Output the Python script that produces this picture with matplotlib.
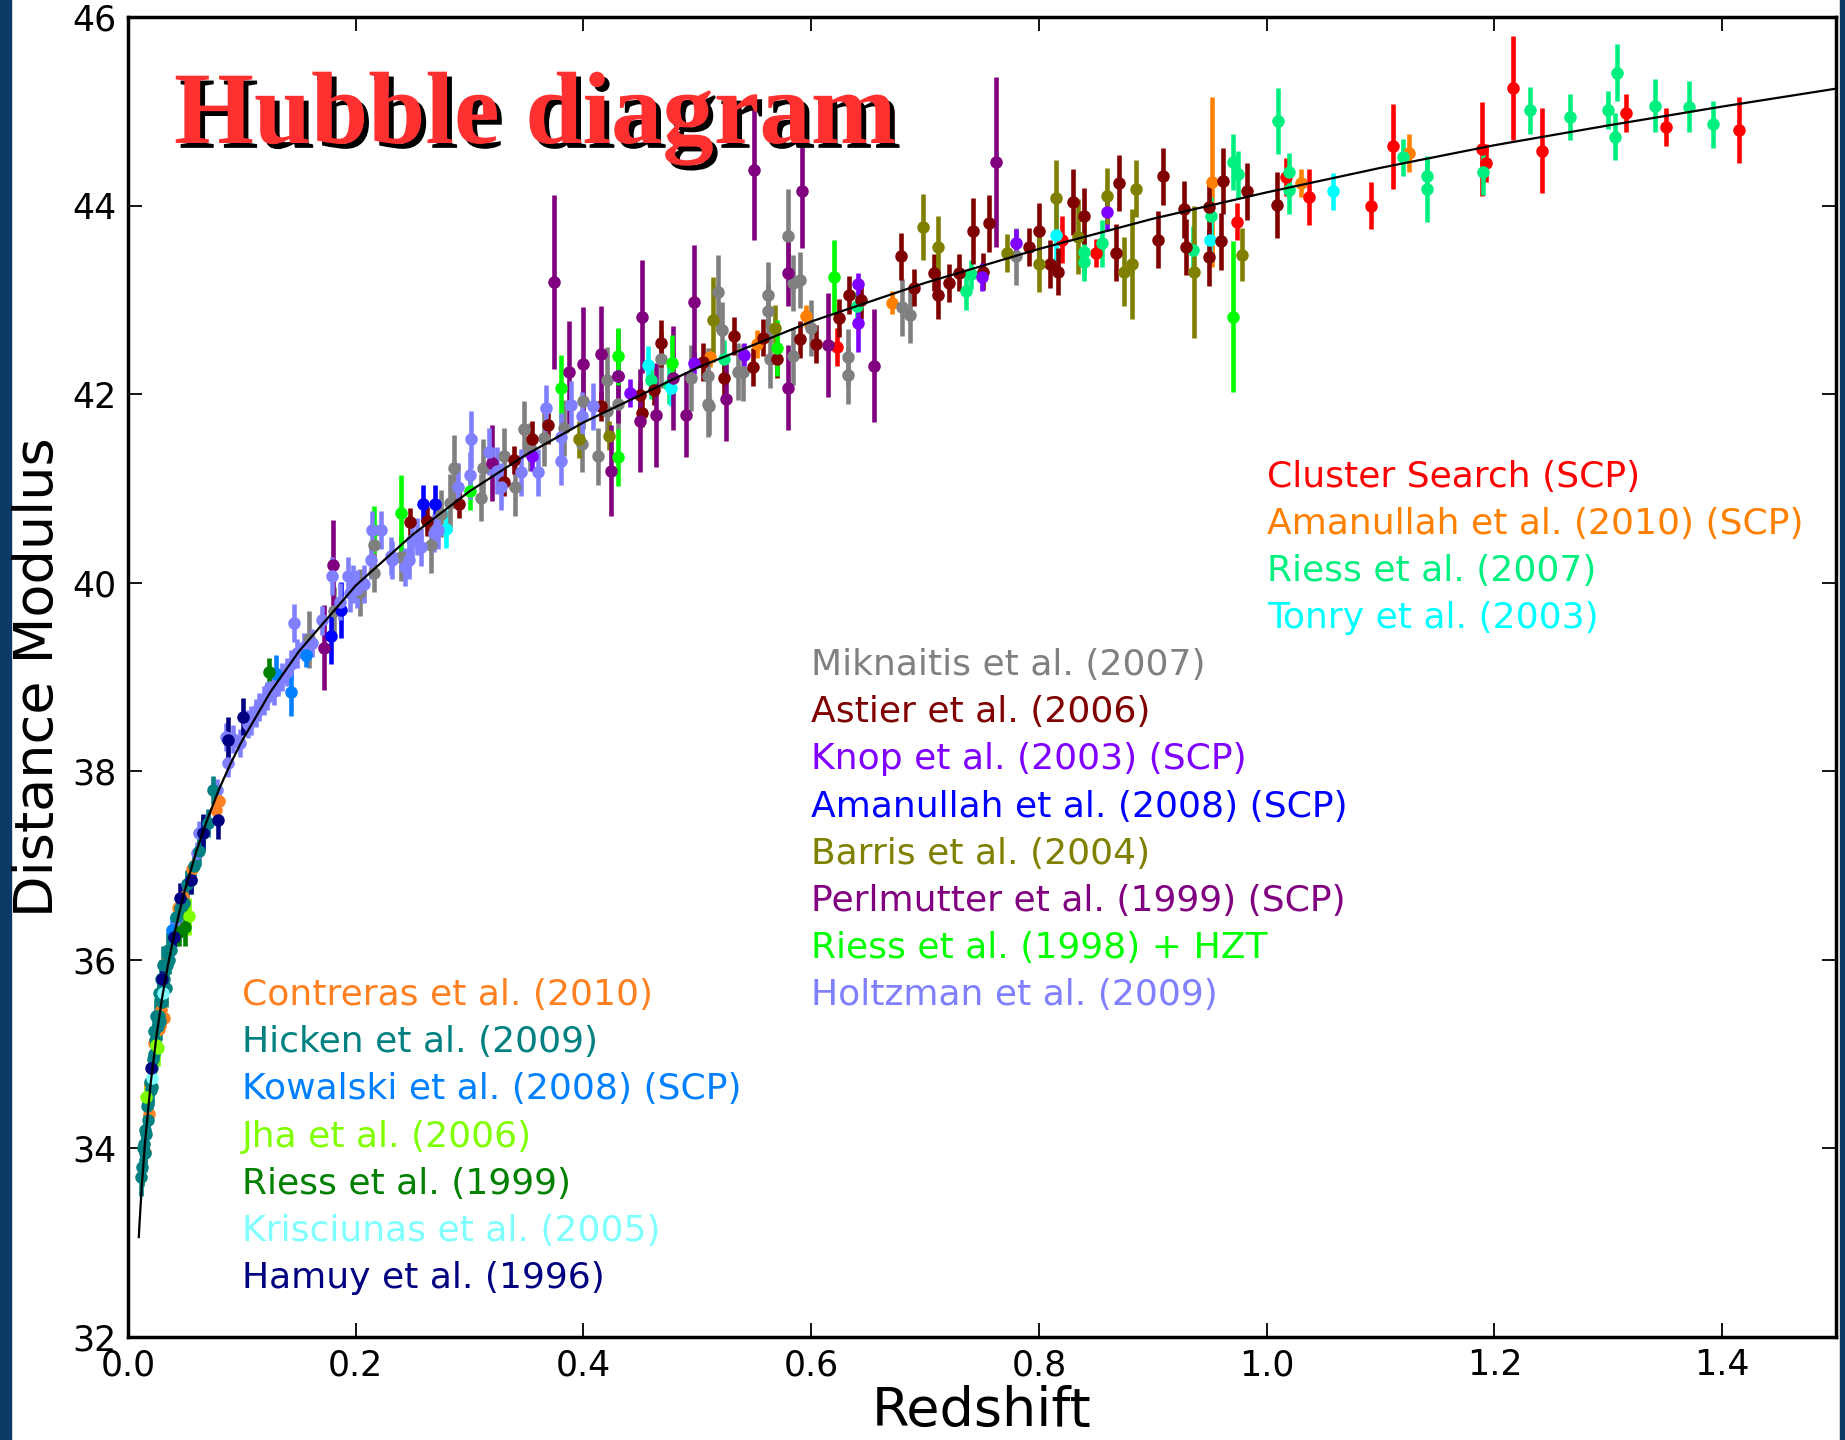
import matplotlib
matplotlib.use('Agg')
import matplotlib.pyplot as plt
import matplotlib.patheffects as pe
from matplotlib.patches import Rectangle

# model curve (redshift, distance modulus)
curve_z = [0.0095, 0.01, 0.012, 0.015, 0.02, 0.025, 0.03, 0.035, 0.04, 0.045, 0.05, 0.06, 0.07, 0.08, 0.09,
           0.1, 0.125, 0.15, 0.2, 0.25, 0.3, 0.35, 0.4, 0.5, 0.6, 0.7, 0.8, 0.9, 1.0, 1.1, 1.2,
           1.3, 1.4, 1.5]
curve_mu = [33.06, 33.18, 33.58, 34.07, 34.70, 35.19, 35.60, 35.94, 36.24, 36.50, 36.74, 37.15, 37.50,
            37.81, 38.08, 38.32, 38.84, 39.27, 39.97, 40.51, 40.97, 41.36, 41.70, 42.28, 42.77,
            43.18, 43.54, 43.86, 44.14, 44.40, 44.64, 44.85, 45.05, 45.24]

# --- high-z group ---
cluster_z = [0.623, 0.82, 0.85, 0.974, 1.017, 1.037, 1.092, 1.111, 1.189, 1.193, 1.216, 1.242, 1.316, 1.351, 1.415]
cluster_mu = [42.50, 43.64, 43.50, 43.83, 44.30, 44.09, 44.00, 44.63, 44.60, 44.45, 45.25, 44.58, 44.98, 44.83, 44.80]
cluster_err = [0.2, 0.25, 0.15, 0.2, 0.2, 0.3, 0.25, 0.45, 0.5, 0.2, 0.55, 0.45, 0.2, 0.2, 0.35]

aman10_z = [0.511, 0.552, 0.595, 0.671, 0.952, 1.03, 1.125]
aman10_mu = [42.39, 42.53, 42.83, 42.97, 44.25, 44.24, 44.56]
aman10_err = [0.1, 0.15, 0.12, 0.12, 0.9, 0.15, 0.2]

riess07_z = [0.459, 0.475, 0.523, 0.64, 0.736, 0.74, 0.84, 0.84, 0.855, 0.935, 0.951, 0.97, 0.975, 1.01,
             1.02, 1.02, 1.12, 1.141, 1.141, 1.19, 1.231, 1.266, 1.30, 1.306, 1.308, 1.341, 1.371, 1.392]
riess07_mu = [42.15, 42.10, 42.37, 42.93, 43.09, 43.27, 43.51, 43.40, 43.60, 43.53, 43.89, 44.46, 44.33, 44.90,
              44.36, 44.16, 44.51, 44.31, 44.18, 44.36, 45.01, 44.94, 45.01, 44.73, 45.41, 45.06, 45.05, 44.86]
riess07_err = [0.2, 0.2, 0.2, 0.15, 0.2, 0.15, 0.25, 0.2, 0.25, 0.25, 0.2, 0.3, 0.25, 0.35,
               0.2, 0.25, 0.2, 0.2, 0.35, 0.25, 0.25, 0.24, 0.2, 0.25, 0.3, 0.28, 0.27, 0.25]

tonry_z = [0.279, 0.457, 0.477, 0.815, 0.95, 1.058]
tonry_mu = [40.57, 42.31, 42.07, 43.69, 43.64, 44.15]
tonry_err = [0.2, 0.2, 0.2, 0.35, 0.25, 0.2]

# --- intermediate-z group ---
mik_z = [0.159, 0.181, 0.204, 0.216, 0.216, 0.24, 0.266, 0.275, 0.283, 0.286, 0.31, 0.312, 0.33, 0.34,
         0.348, 0.353, 0.365, 0.383, 0.40, 0.399, 0.413, 0.421, 0.421, 0.43, 0.468, 0.494, 0.509, 0.51,
         0.509, 0.518, 0.522, 0.536, 0.54, 0.562, 0.562, 0.564, 0.58, 0.584, 0.59, 0.584, 0.60, 0.632,
         0.632, 0.68, 0.687, 0.78]
mik_mu = [39.40, 39.70, 39.90, 40.10, 40.40, 40.27, 40.40, 40.73, 40.85, 41.22, 40.90, 41.22, 41.34, 41.01,
          41.63, 41.44, 41.54, 41.64, 41.93, 41.47, 41.34, 42.15, 41.82, 41.90, 42.37, 42.17, 41.90, 41.87,
          42.19, 43.08, 42.68, 42.24, 42.23, 43.05, 42.88, 42.37, 43.68, 43.18, 43.21, 42.40, 42.70, 42.39,
          42.20, 42.92, 42.84, 43.46]
mik_err = [0.3, 0.25, 0.25, 0.2, 0.2, 0.25, 0.3, 0.25, 0.3, 0.35, 0.25, 0.3, 0.3, 0.3,
           0.3, 0.25, 0.3, 0.3, 0.3, 0.3, 0.3, 0.35, 0.3, 0.3, 0.3, 0.35, 0.35, 0.3,
           0.3, 0.4, 0.3, 0.3, 0.3, 0.35, 0.3, 0.3, 0.5, 0.3, 0.3, 0.3, 0.3, 0.3,
           0.3, 0.3, 0.3, 0.3]

astier_z = [0.248, 0.263, 0.291, 0.33, 0.339, 0.355, 0.369, 0.415, 0.45, 0.451, 0.462, 0.468, 0.505, 0.523,
            0.532, 0.549, 0.558, 0.57, 0.59, 0.604, 0.624, 0.633, 0.644, 0.679, 0.69, 0.708, 0.711, 0.721,
            0.73, 0.742, 0.751, 0.756, 0.791, 0.80, 0.81, 0.817, 0.83, 0.84, 0.868, 0.87, 0.905, 0.909,
            0.927, 0.929, 0.949, 0.949, 0.96, 0.962, 0.983, 1.009]
astier_mu = [40.64, 40.65, 40.84, 41.07, 41.30, 41.52, 41.67, 41.87, 41.99, 41.80, 42.04, 42.54, 42.34, 42.17,
             42.62, 42.29, 42.60, 42.37, 42.58, 42.53, 42.81, 43.05, 43.00, 43.46, 43.13, 43.29, 43.05, 43.18,
             43.29, 43.73, 43.30, 43.81, 43.56, 43.73, 43.38, 43.30, 44.04, 43.89, 43.50, 44.24, 43.64, 44.31,
             43.96, 43.56, 43.45, 43.98, 43.62, 44.26, 44.15, 44.01]
astier_err = [0.15, 0.15, 0.15, 0.15, 0.15, 0.2, 0.2, 0.15, 0.15, 0.15, 0.15, 0.25, 0.2, 0.2,
              0.2, 0.2, 0.2, 0.2, 0.2, 0.2, 0.2, 0.2, 0.2, 0.25, 0.2, 0.2, 0.25, 0.2,
              0.2, 0.35, 0.2, 0.3, 0.2, 0.3, 0.25, 0.25, 0.35, 0.3, 0.3, 0.3, 0.3, 0.3,
              0.3, 0.3, 0.3, 0.3, 0.3, 0.35, 0.3, 0.35]

knop_z = [0.355, 0.43, 0.441, 0.497, 0.541, 0.641, 0.641, 0.75, 0.78, 0.86]
knop_mu = [41.34, 42.19, 42.01, 42.33, 42.42, 43.17, 42.75, 43.24, 43.60, 43.93]
knop_err = [0.15, 0.15, 0.15, 0.12, 0.12, 0.12, 0.3, 0.15, 0.15, 0.2]

aman08_z = [0.178, 0.187, 0.259, 0.27]
aman08_mu = [39.44, 39.71, 40.84, 40.84]
aman08_err = [0.3, 0.3, 0.2, 0.2]

barris_z = [0.396, 0.422, 0.514, 0.568, 0.698, 0.711, 0.772, 0.80, 0.815, 0.834, 0.86, 0.875, 0.882, 0.885, 0.936, 0.978]
barris_mu = [41.52, 41.56, 42.79, 42.70, 43.77, 43.56, 43.50, 43.38, 44.08, 43.67, 44.10, 43.30, 43.38, 44.18, 43.30, 43.48]
barris_err = [0.2, 0.15, 0.45, 0.25, 0.35, 0.33, 0.2, 0.3, 0.4, 0.4, 0.3, 0.37, 0.58, 0.3, 0.7, 0.28]

perl_z = [0.172, 0.18, 0.32, 0.374, 0.387, 0.40, 0.415, 0.424, 0.43, 0.45, 0.451, 0.464, 0.479, 0.49,
          0.497, 0.525, 0.55, 0.58, 0.58, 0.592, 0.615, 0.655, 0.762]
perl_mu = [39.31, 40.19, 41.27, 43.19, 42.23, 42.32, 42.43, 41.19, 42.19, 41.72, 42.82, 41.78, 42.17, 41.78,
           42.98, 41.95, 44.38, 42.07, 43.29, 44.15, 42.52, 42.30, 44.46]
perl_err = [0.45, 0.48, 0.4, 0.92, 0.55, 0.6, 0.5, 0.48, 0.5, 0.55, 0.6, 0.55, 0.55, 0.45,
            0.6, 0.45, 0.75, 0.45, 0.35, 0.6, 0.55, 0.6, 0.9]

riess98_z = [0.216, 0.24, 0.30, 0.38, 0.43, 0.43, 0.478, 0.57, 0.62, 0.97]
riess98_mu = [40.56, 40.74, 40.97, 42.07, 42.40, 41.33, 42.33, 42.49, 43.24, 42.82]
riess98_err = [0.25, 0.4, 0.2, 0.35, 0.3, 0.3, 0.3, 0.3, 0.4, 0.8]

holtz_z = [0.043, 0.052, 0.061, 0.062, 0.07, 0.078, 0.086, 0.088, 0.092, 0.098, 0.105, 0.108, 0.112, 0.115,
           0.119, 0.122, 0.125, 0.128, 0.132, 0.135, 0.14, 0.143, 0.146, 0.148, 0.155, 0.162, 0.17, 0.179,
           0.186, 0.193, 0.195, 0.198, 0.201, 0.207, 0.213, 0.214, 0.222, 0.231, 0.232, 0.243, 0.247, 0.249,
           0.254, 0.257, 0.269, 0.272, 0.29, 0.30, 0.301, 0.317, 0.324, 0.328, 0.345, 0.36, 0.367, 0.38,
           0.38, 0.389, 0.399, 0.408]
holtz_mu = [36.38, 36.80, 37.13, 37.35, 37.45, 37.80, 38.36, 38.09, 38.34, 38.30, 38.50, 38.54, 38.62, 38.68,
            38.75, 38.80, 38.89, 38.85, 38.95, 39.00, 39.05, 39.14, 39.57, 39.25, 39.32, 39.36, 39.60, 40.07,
            39.80, 40.07, 39.89, 39.99, 39.93, 39.99, 40.24, 40.56, 40.56, 40.28, 40.24, 40.17, 40.24, 40.45,
            40.49, 40.38, 40.53, 40.56, 41.02, 41.14, 41.52, 41.39, 41.19, 41.02, 41.17, 41.17, 41.85, 41.55,
            41.29, 41.89, 41.77, 41.87]
holtz_err = [0.12, 0.12, 0.12, 0.12, 0.12, 0.12, 0.15, 0.15, 0.15, 0.15, 0.15, 0.15, 0.15, 0.15,
             0.15, 0.15, 0.15, 0.15, 0.15, 0.15, 0.15, 0.15, 0.2, 0.15, 0.15, 0.15, 0.15, 0.2,
             0.2, 0.2, 0.2, 0.2, 0.2, 0.2, 0.2, 0.2, 0.2, 0.2, 0.2, 0.2, 0.2, 0.2,
             0.2, 0.2, 0.2, 0.2, 0.25, 0.25, 0.3, 0.25, 0.25, 0.25, 0.25, 0.25, 0.25, 0.25,
             0.25, 0.25, 0.25, 0.25]

# --- low-z group ---
contr_z = [0.0145, 0.0186, 0.0196, 0.0227, 0.0269, 0.029, 0.032, 0.030, 0.033, 0.044, 0.048, 0.056, 0.077, 0.080]
contr_mu = [33.96, 34.37, 34.67, 35.12, 35.27, 35.47, 35.38, 35.55, 35.97, 36.55, 36.67, 36.96, 37.59, 37.68]
contr_err = [0.1] * 14

hicken_z = [0.0115, 0.0125, 0.013, 0.014, 0.015, 0.015, 0.016, 0.017, 0.018, 0.018, 0.019, 0.020, 0.021,
            0.021, 0.022, 0.023, 0.023, 0.024, 0.025, 0.025, 0.026, 0.027, 0.027, 0.028, 0.029, 0.029,
            0.030, 0.031, 0.031, 0.032, 0.033, 0.034, 0.035, 0.036, 0.038, 0.040, 0.042, 0.043, 0.046,
            0.049, 0.052, 0.055, 0.058, 0.062, 0.066, 0.070, 0.075]
hicken_mu = [33.70, 33.80, 34.00, 34.05, 34.20, 33.95, 34.15, 34.45, 34.50, 34.30, 34.70, 34.62, 34.85,
             34.65, 34.95, 35.00, 35.25, 35.15, 35.10, 35.40, 35.30, 35.40, 35.65, 35.35, 35.60, 35.80,
             35.55, 35.72, 35.95, 35.80, 35.70, 35.95, 36.10, 36.00, 36.10, 36.25, 36.45, 36.30, 36.55,
             36.60, 36.80, 36.85, 37.00, 37.15, 37.35, 37.45, 37.80]
hicken_err = [0.2, 0.2, 0.15, 0.15, 0.15, 0.2, 0.2, 0.15, 0.15, 0.2, 0.15, 0.2, 0.15,
              0.2, 0.15, 0.2, 0.2, 0.15, 0.15, 0.2, 0.2, 0.15, 0.2, 0.2, 0.15, 0.2,
              0.15, 0.2, 0.2, 0.15, 0.2, 0.15, 0.2, 0.15, 0.15, 0.15, 0.15, 0.15, 0.15,
              0.15, 0.15, 0.15, 0.15, 0.15, 0.15, 0.15, 0.15]

kowal_z = [0.039, 0.13, 0.143, 0.156]
kowal_mu = [36.32, 39.03, 38.84, 39.23]
kowal_err = [0.15, 0.2, 0.25, 0.12]

jha_z = [0.0155, 0.025, 0.026, 0.054]
jha_mu = [34.55, 35.10, 35.07, 36.46]
jha_err = [0.15, 0.15, 0.2, 0.2]

riess99_z = [0.045, 0.05, 0.124]
riess99_mu = [36.30, 36.35, 39.05]
riess99_err = [0.15, 0.2, 0.15]

kris_z = [0.021, 0.031]
kris_mu = [34.75, 35.65]
kris_err = [0.1, 0.1]

hamuy_z = [0.020, 0.030, 0.040, 0.046, 0.055, 0.066, 0.079, 0.088, 0.101]
hamuy_mu = [34.85, 35.80, 36.24, 36.66, 36.85, 37.35, 37.48, 38.33, 38.58]
hamuy_err = [0.15, 0.15, 0.15, 0.15, 0.15, 0.2, 0.2, 0.25, 0.2]

# label, colour, data ; text column position in data coords
groups = [
    # (x of labels, y of first label, entries)
    (1.0, 41.125, [
        ('Cluster Search (SCP)', '#ff0000', cluster_z, cluster_mu, cluster_err),
        ('Amanullah et al. (2010) (SCP)', '#ff8000', aman10_z, aman10_mu, aman10_err),
        ('Riess et al. (2007)', '#00f080', riess07_z, riess07_mu, riess07_err),
        ('Tonry et al. (2003)', '#00ffff', tonry_z, tonry_mu, tonry_err),
    ]),
    (0.6, 39.125, [
        ('Miknaitis et al. (2007)', '#808080', mik_z, mik_mu, mik_err),
        ('Astier et al. (2006)', '#800000', astier_z, astier_mu, astier_err),
        ('Knop et al. (2003) (SCP)', '#8000ff', knop_z, knop_mu, knop_err),
        ('Amanullah et al. (2008) (SCP)', '#0000ff', aman08_z, aman08_mu, aman08_err),
        ('Barris et al. (2004)', '#808000', barris_z, barris_mu, barris_err),
        ('Perlmutter et al. (1999) (SCP)', '#800080', perl_z, perl_mu, perl_err),
        ('Riess et al. (1998) + HZT', '#00ff00', riess98_z, riess98_mu, riess98_err),
        ('Holtzman et al. (2009)', '#8080ff', holtz_z, holtz_mu, holtz_err),
    ]),
    (0.1, 35.625, [
        ('Contreras et al. (2010)', '#ff8020', contr_z, contr_mu, contr_err),
        ('Hicken et al. (2009)', '#008080', hicken_z, hicken_mu, hicken_err),
        ('Kowalski et al. (2008) (SCP)', '#0080ff', kowal_z, kowal_mu, kowal_err),
        ('Jha et al. (2006)', '#80ff00', jha_z, jha_mu, jha_err),
        ('Riess et al. (1999)', '#008000', riess99_z, riess99_mu, riess99_err),
        ('Krisciunas et al. (2005)', '#80ffff', kris_z, kris_mu, kris_err),
        ('Hamuy et al. (1996)', '#000080', hamuy_z, hamuy_mu, hamuy_err),
    ]),
]

fig = plt.figure(figsize=(18.45, 14.4), dpi=100)
fig.patch.set_facecolor('white')
# slide background strips at the edges
fig.patches.append(Rectangle((0, 0), 11 / 1845, 1, transform=fig.transFigure, color='#0b3a66', zorder=-5))
fig.patches.append(Rectangle((1840 / 1845, 0), 5 / 1845, 1, transform=fig.transFigure, color='#0b3a66', zorder=-5))

ax = fig.add_axes([128 / 1845, 1 - 1337 / 1440, 1708 / 1845, 1320 / 1440])

# draw points, high-z group first so the crowded low-z points end up on top
for xl, y0, entries in groups:
    for i, (label, col, z, mu, err) in enumerate(entries):
        ax.errorbar(z, mu, yerr=err, fmt='o', color=col, mec=col, ms=8,
                    elinewidth=3.3, capsize=0, zorder=2)
        ax.text(xl, y0 - 0.5 * i, label, color=col, fontsize=26, va='center', ha='left')

ax.plot(curve_z, curve_mu, color='black', lw=1.6, zorder=3)

ax.set_xlim(0, 1.5)
ax.set_ylim(32, 46)
ax.set_xticks([0.0, 0.2, 0.4, 0.6, 0.8, 1.0, 1.2, 1.4])
ax.set_yticks([32, 34, 36, 38, 40, 42, 44, 46])
ax.tick_params(direction='in', length=10, width=1.3, top=True, right=True, labelsize=25, pad=8)
for s in ax.spines.values():
    s.set_linewidth(2.5)

ax.set_xlabel('Redshift', fontsize=39, labelpad=2)
ax.set_ylabel('Distance Modulus', fontsize=39, labelpad=6)

fig.text(174 / 1845, 1 - 143 / 1440, 'Hubble diagram', fontsize=74, fontweight='bold',
         family='Liberation Serif', color='#ff3030', va='baseline', ha='left',
         path_effects=[pe.SimplePatchShadow(offset=(3.5, -3.5), shadow_rgbFace='black', alpha=1.0),
                       pe.Normal()])

fig.savefig('out.png', dpi=100)
